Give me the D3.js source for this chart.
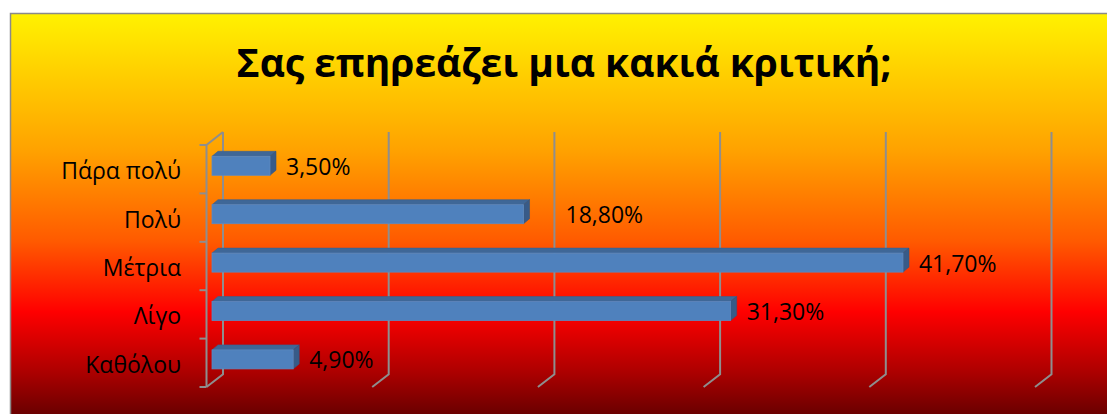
<!DOCTYPE html>
<html>
<head>
<meta charset="utf-8">
<script src="https://cdn.jsdelivr.net/npm/d3@7"></script>
<style>
  html, body { margin: 0; padding: 0; background: #ffffff; }
  svg { display: block; }
  text { font-family: "Open Sans", "DejaVu Sans", sans-serif; fill: #000; }
</style>
</head>
<body>
<svg id="chart" width="1107" height="414"></svg>
<script>
// Survey answers, top row first
const categories = ["Πάρα πολύ", "Πολύ", "Μέτρια", "Λίγο", "Καθόλου"];
const values = [3.5, 18.8, 41.7, 31.3, 4.9];
const valueLabels = ["3,50%", "18,80%", "41,70%", "31,30%", "4,90%"];
const gridTicks = [0, 10, 20, 30, 40, 50];
const title = "Σας επηρεάζει μια κακιά κριτική;";

const W = 1107, H = 414;
const svg = d3.select("#chart");

// Background panel with a yellow-to-dark-red gradient
const defs = svg.append("defs");
const grad = defs.append("linearGradient")
  .attr("id", "bg").attr("x1", 0).attr("y1", 0).attr("x2", 0).attr("y2", 1);
[[0, "#fff200"], [0.33, "#ffa200"], [0.55, "#ff5a00"], [0.72, "#ff0000"], [0.86, "#b00000"], [1, "#560000"]]
  .forEach(([o, c]) => grad.append("stop").attr("offset", o).attr("stop-color", c));

svg.append("rect")
  .attr("x", 10.5).attr("y", 13.5)
  .attr("width", W).attr("height", H)
  .attr("fill", "url(#bg)")
  .attr("stroke", "#8a8a8a").attr("stroke-width", 1.5);

// Title, fitted to its width
const t = svg.append("text")
  .attr("x", 564).attr("y", 77)
  .attr("text-anchor", "middle")
  .attr("font-weight", "bold")
  .attr("font-size", 38)
  .text(title);
const tw = t.node().getComputedTextLength();
t.attr("font-size", 38 * 655 / tw);

// Scales: x for the front face of the bars, y for the category bands on the front plane
const x = d3.scaleLinear().domain([0, 50]).range([212, 1040.5]);
const y = d3.scaleBand().domain(categories).range([145, 387]);

// 3D offsets
const wallDX = 16.5, wallDY = -12.8;   // front plane -> back wall
const frontShift = -5.5;               // bar front -> front plane (x)
const barDX = 6, barDY = -5;           // bar depth
const barH = 19;
const barLift = -3.4;

const gridColor = "#8e8e8e";
const g = svg.append("g");

// Back-wall gridlines with floor diagonals
const floorY = y.range()[1];
const wallTop = 132;
gridTicks.forEach(v => {
  const xf = x(v) + frontShift;
  const xb = xf + wallDX;
  g.append("path")
    .attr("d", `M${xb},${wallTop}L${xb},${floorY + wallDY}L${xf},${floorY}`)
    .attr("fill", "none").attr("stroke", gridColor).attr("stroke-width", 2);
});

// Left wall: front edge, top diagonal and tick marks
const x0f = x(0) + frontShift;
g.append("path")
  .attr("d", `M${x0f + wallDX},${wallTop}L${x0f},${y.range()[0]}L${x0f},${floorY}`)
  .attr("fill", "none").attr("stroke", gridColor).attr("stroke-width", 2);
const tickYs = categories.map(c => y(c)).concat([floorY]);
tickYs.forEach(ty => {
  g.append("line")
    .attr("x1", x0f - 7).attr("x2", x0f)
    .attr("y1", ty).attr("y2", ty)
    .attr("stroke", gridColor).attr("stroke-width", 2);
});

// Category labels
svg.append("g").selectAll("text")
  .data(categories).join("text")
  .attr("x", 181)
  .attr("y", d => y(d) + y.bandwidth() / 2 + 10)
  .attr("text-anchor", "end")
  .attr("font-size", 23)
  .text(d => d);

// Bars (front, top and side faces)
const bars = svg.append("g").selectAll("g")
  .data(categories.map((c, i) => ({ c, v: values[i], label: valueLabels[i] })))
  .join("g");

bars.each(function(d) {
  const sel = d3.select(this);
  const x0 = x(0), x1 = x(d.v);
  const cy = y(d.c) + y.bandwidth() / 2 + barLift;
  const y0 = cy - barH / 2, y1 = cy + barH / 2;
  // top face
  sel.append("path")
    .attr("d", `M${x0},${y0}L${x0 + barDX},${y0 + barDY}L${x1 + barDX},${y0 + barDY}L${x1},${y0}Z`)
    .attr("fill", "#3f6797").attr("stroke", "#3a5f8d").attr("stroke-width", 0.6);
  // side face
  sel.append("path")
    .attr("d", `M${x1},${y0}L${x1 + barDX},${y0 + barDY}L${x1 + barDX},${y1 + barDY}L${x1},${y1}Z`)
    .attr("fill", "#385b88").attr("stroke", "#34557f").attr("stroke-width", 0.6);
  // front face
  sel.append("rect")
    .attr("x", x0).attr("y", y0)
    .attr("width", x1 - x0).attr("height", barH)
    .attr("fill", "#4f81bd").attr("stroke", "#5d89c0").attr("stroke-width", 0.8);
});

// Value labels; the "Πολύ" label sits further out to the right
const labelNudge = { "Πολύ": 26 };
bars.append("text")
  .attr("x", d => x(d.v) + 16 + (labelNudge[d.c] || 0))
  .attr("y", d => y(d.c) + y.bandwidth() / 2 + barLift + 9)
  .attr("font-size", 23)
  .text(d => d.label);
</script>
</body>
</html>
